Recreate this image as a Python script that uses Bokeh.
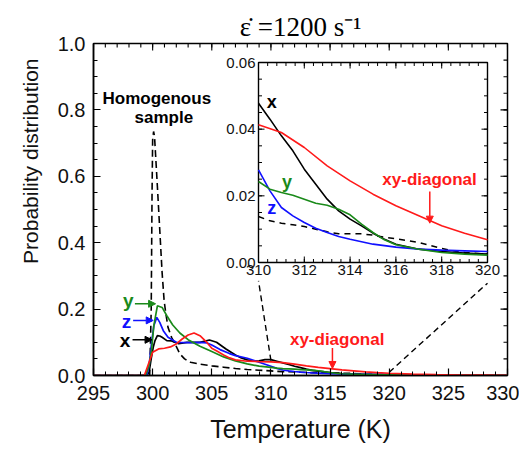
import numpy as np
from bokeh.plotting import figure
from bokeh.models import Range1d, FixedTicker, Label, Arrow, NormalHead, PrintfTickFormatter, Title
from bokeh.core.properties import value
from bokeh.embed import file_html
from bokeh.resources import INLINE

# ---------------- data ----------------
T_x = [295, 299.5, 299.7, 299.9, 300.05, 300.2, 300.4, 300.6, 300.8, 301.2, 301.6, 302.2, 302.9, 303.5, 304,
       304.8, 305.4, 306.2, 307, 307.5, 308, 308.5, 309, 309.5, 310, 310.5, 311, 311.5, 312, 312.5, 313,
       313.5, 314, 314.5, 315, 315.5, 316, 317, 318, 319, 320, 322, 325, 330]
P_x = [0, 0, 0.01, 0.055, 0.085, 0.105, 0.12, 0.119, 0.115, 0.105, 0.104, 0.096, 0.10, 0.10, 0.10,
       0.107, 0.10, 0.08, 0.062, 0.053, 0.047, 0.043, 0.044, 0.048, 0.0478, 0.043, 0.038, 0.0335, 0.028, 0.0235, 0.019,
       0.0155, 0.013, 0.011, 0.0088, 0.007, 0.0055, 0.004, 0.0033, 0.0028, 0.0025, 0.0015, 0.0008, 0.0003]

T_z = [295, 299.5, 299.7, 299.9, 300.1, 300.35, 300.6, 300.9, 301.3, 302, 303, 304, 304.6, 305, 305.7, 306.5,
       307, 308, 309, 309.5, 310, 310.5, 311, 311.5, 312, 312.5, 313, 313.5, 314, 315, 316, 317, 318, 319, 320,
       322, 325, 330]
P_z = [0, 0, 0.03, 0.095, 0.15, 0.175, 0.16, 0.135, 0.115, 0.10, 0.099, 0.10, 0.098, 0.092, 0.078, 0.066,
       0.06, 0.052, 0.04, 0.034, 0.0278, 0.0215, 0.0165, 0.014, 0.012, 0.0103, 0.009, 0.0078, 0.007, 0.0055, 0.0046,
       0.004, 0.0037, 0.0035, 0.0033, 0.002, 0.001, 0.0003]

T_y = [295, 299.4, 299.7, 299.9, 300.1, 300.4, 300.8, 301.2, 301.7, 302.3, 303, 304, 305, 306, 307, 308, 309,
       310, 310.5, 311, 311.5, 312, 312.5, 313, 313.5, 314, 314.5, 315, 315.5, 316, 317, 318, 319, 320, 322, 325, 330]
P_y = [0, 0, 0.03, 0.075, 0.15, 0.21, 0.205, 0.18, 0.152, 0.128, 0.108, 0.088, 0.072, 0.056, 0.044, 0.035, 0.028,
       0.0243, 0.022, 0.021, 0.0202, 0.019, 0.0178, 0.0172, 0.016, 0.0143, 0.0115, 0.009, 0.0068, 0.0053, 0.004,
       0.003, 0.0025, 0.0022, 0.0012, 0.0005, 0.0002]

T_xy = [295, 299.3, 299.6, 300, 300.5, 301, 301.5, 302, 302.5, 303, 303.5, 304, 304.5, 305, 305.5, 306, 306.5,
        307, 308, 309, 310, 311, 312, 313, 314, 315, 316, 317, 318, 319, 320, 322, 324, 326, 328, 330]
P_xy = [0, 0, 0.03, 0.07, 0.08, 0.082, 0.086, 0.095, 0.11, 0.122, 0.128, 0.12, 0.103, 0.082, 0.072, 0.062, 0.053,
        0.047, 0.043, 0.042, 0.0413, 0.039, 0.0345, 0.029, 0.0245, 0.0205, 0.017, 0.014, 0.011, 0.0088, 0.0068,
        0.004, 0.0025, 0.0015, 0.001, 0.0005]

T_h = [295, 299.75, 299.88, 299.95, 300.0, 300.08, 300.16, 300.4, 300.6, 300.8, 300.97, 301.1, 301.3, 301.6,
       301.9, 302.3, 302.7, 303.2, 304, 305, 306, 307, 308, 309, 310, 310.5, 311, 311.5, 312, 312.5, 313, 313.5,
       314, 314.5, 315, 315.5, 316, 316.5, 317, 317.5, 318, 318.5, 319, 320, 322, 325, 330]
P_h = [0, 0, 0.2, 0.55, 0.71, 0.735, 0.72, 0.57, 0.44, 0.31, 0.226, 0.19, 0.145, 0.115,
       0.095, 0.065, 0.05, 0.04, 0.034, 0.029, 0.025, 0.021, 0.018, 0.016, 0.0138, 0.0125, 0.0118, 0.0113, 0.0108,
       0.010, 0.0092, 0.0086, 0.0086, 0.0086, 0.0082, 0.0076, 0.0071, 0.0066, 0.006, 0.0051, 0.0042, 0.0035, 0.003,
       0.0025, 0.0012, 0.0005, 0.0002]

x_ticks = [295, 300, 305, 310, 315, 320, 325, 330]
y_ticks = [0.0, 0.2, 0.4, 0.6, 0.8, 1.0]
inset_x_ticks = [310, 312, 314, 316, 318, 320]
inset_y_ticks = [0.00, 0.02, 0.04, 0.06]
inset_x_labels = ["310", "312", "314", "316", "318", "320"]
inset_y_labels = ["0.00", "0.02", "0.04", "0.06"]

BLACK, BLUE, GREEN, RED = "#000000", "#1010ff", "#1a8a1a", "#ff1a1a"
FONT = "Liberation Sans"

# ---------------- main figure ----------------
FW, FH = 414, 332
X0, X1, Y0, Y1 = 295, 330, 0.0, 1.0
p = figure(x_range=Range1d(X0, X1), y_range=Range1d(Y0, Y1), frame_width=FW, frame_height=FH,
           min_border_left=93, min_border_top=43, min_border_right=12, min_border_bottom=10,
           output_backend="svg", toolbar_location=None,
           title="\u03b5\u0307 =1200 s\u207b\u00b9")
p.title.text_font = "Liberation Serif"
p.title.text_font_style = "normal"
p.title.text_font_size = "27px"
p.title.align = "center"
p.title.offset = 3
p.title.standoff = 3
p.title.text_color = "black"
p.grid.visible = False
p.outline_line_color = "black"
p.outline_line_width = 1.5
p.background_fill_color = "white"
p.border_fill_color = "white"

for ax in (p.xaxis[0], p.yaxis[0]):
    ax.axis_line_width = 1.5
    ax.axis_line_color = "black"
    ax.major_tick_in = 7
    ax.major_tick_out = 0
    ax.minor_tick_in = 4
    ax.minor_tick_out = 0
    ax.major_tick_line_width = 1.2
    ax.minor_tick_line_width = 1.0
    ax.major_label_text_font = FONT
    ax.major_label_text_color = "#111111"
    ax.major_label_text_font_size = "20px"
    ax.axis_label_text_font = FONT
    ax.axis_label_text_font_style = "normal"
    ax.axis_label_text_color = "#111111"

x_minor = list(np.arange(X0, X1 + 0.5, 1.0))
y_minor = list(np.arange(0, 1.0001, 0.05))
p.xaxis.ticker = FixedTicker(ticks=x_ticks, minor_ticks=x_minor)
p.yaxis.ticker = FixedTicker(ticks=y_ticks, minor_ticks=y_minor)
p.yaxis.formatter = PrintfTickFormatter(format="%.1f")
p.xaxis.major_label_standoff = 10
p.yaxis.major_label_standoff = 8
p.xaxis.axis_label = "Temperature (K)"
p.xaxis.axis_label_text_font_size = "25px"
p.xaxis.axis_label_standoff = 12

# y axis title, placed toward the top as in the reference
ytitle = Title(text="Probability distribution", align="right", offset=15, text_font=FONT,
               text_font_style="normal", text_font_size="21px", text_color="#111111", standoff=26)
p.add_layout(ytitle, "left")

# ticks on top and right frame edges (inside)
kx = (X1 - X0) / FW
ky = (Y1 - Y0) / FH
for ticks, L in [(x_ticks, 7 * ky), (x_minor, 4 * ky)]:
    p.segment(x0=ticks, y0=[Y1] * len(ticks), x1=ticks, y1=[Y1 - L] * len(ticks), line_color="black",
              line_width=1.1)
for ticks, L in [(y_ticks, 7 * kx), (y_minor, 4 * kx)]:
    p.segment(x0=[X1] * len(ticks), y0=ticks, x1=[X1 - L] * len(ticks), y1=ticks, line_color="black",
              line_width=1.1)

# main curves
LW = 1.7
p.line(T_h, P_h, line_color=BLACK, line_width=1.6, line_dash="7 4")
p.line(T_x, P_x, line_color=BLACK, line_width=LW)
p.line(T_z, P_z, line_color=BLUE, line_width=LW)
p.line(T_y, P_y, line_color=GREEN, line_width=LW)
p.line(T_xy, P_xy, line_color=RED, line_width=LW)

# ---------------- inset (drawn through extra ranges) ----------------
IX0, IX1, IY0, IY1 = 310, 320, 0.0, 0.06
in_left, in_right, in_bottom, in_top = 165, 394, 113, 313     # pixel box inside the frame
sx = (in_right - in_left) / (IX1 - IX0)
sy = (in_top - in_bottom) / (IY1 - IY0)
ix_start = IX0 - in_left / sx
iy_start = IY0 - in_bottom / sy
p.extra_x_ranges = {"ix": Range1d(ix_start, ix_start + FW / sx)}
p.extra_y_ranges = {"iy": Range1d(iy_start, iy_start + FH / sy)}
R = dict(x_range_name="ix", y_range_name="iy")

def inset_to_main(xi, yi):
    px = (xi - ix_start) * sx
    py = (yi - iy_start) * sy
    return X0 + px * kx, Y0 + py * ky

# connector lines from main plot to inset corners
for (xm, ym), (xi, yi) in [((310, 0.045), (310, -0.0055)), ((320, 0.01), (320, -0.0062))]:
    xa, ya = inset_to_main(xi, yi)
    p.line([xm, xa], [ym, ya], line_color=BLACK, line_width=1.4, line_dash="6 4")

p.quad(left=IX0, right=IX1, bottom=IY0, top=IY1, fill_color="white", line_color="black", line_width=1.4, **R)

# inset ticks
maj_y_len, min_y_len = 6 / sy, 3.5 / sy
maj_x_len, min_x_len = 6 / sx, 3.5 / sx
xminor = [v for v in np.arange(IX0, IX1 + 0.01, 0.4)]
yminor = [v for v in np.arange(IY0, IY1 + 1e-6, 0.005)]
for ticks, L in [(inset_x_ticks, maj_y_len), (xminor, min_y_len)]:
    p.segment(x0=ticks, y0=[IY0] * len(ticks), x1=ticks, y1=[IY0 + L] * len(ticks), line_color="black", line_width=1, **R)
    p.segment(x0=ticks, y0=[IY1] * len(ticks), x1=ticks, y1=[IY1 - L] * len(ticks), line_color="black", line_width=1, **R)
for ticks, L in [(inset_y_ticks, maj_x_len), (yminor, min_x_len)]:
    p.segment(x0=[IX0] * len(ticks), y0=ticks, x1=[IX0 + L] * len(ticks), y1=ticks, line_color="black", line_width=1, **R)
    p.segment(x0=[IX1] * len(ticks), y0=ticks, x1=[IX1 - L] * len(ticks), y1=ticks, line_color="black", line_width=1, **R)

p.text(x=inset_x_ticks, y=[IY0 - 2 / sy] * len(inset_x_ticks), text=inset_x_labels, text_align="center",
       text_baseline="top", text_font=value(FONT), text_font_size="15px", text_color="#111111", **R)
p.text(x=[IX0 - 3 / sx] * len(inset_y_ticks), y=inset_y_ticks, text=inset_y_labels, text_align="right",
       text_baseline="middle", text_font=value(FONT), text_font_size="15px", text_color="#111111", **R)

def clip(T, P):
    T = np.asarray(T, float); P = np.asarray(P, float)
    m = (T >= IX0) & (T <= IX1)
    return T[m], P[m]

ILW = 1.6
p.line(*clip(T_h, P_h), line_color=BLACK, line_width=1.5, line_dash="6 5", **R)
p.line(*clip(T_x, P_x), line_color=BLACK, line_width=ILW, **R)
p.line(*clip(T_z, P_z), line_color=BLUE, line_width=ILW, **R)
p.line(*clip(T_y, P_y), line_color=GREEN, line_width=ILW, **R)
p.line(*clip(T_xy, P_xy), line_color=RED, line_width=ILW, **R)

# ---------------- annotations ----------------
def lab(x, y, text, color, size="18px", align="center", **kw):
    p.add_layout(Label(x=x, y=y, text=text, text_color=color, text_font=FONT, text_font_style="bold",
                       text_font_size=size, text_align=align, text_baseline="middle", **kw))

def arrow(x0, y0, x1, y1, color, **kw):
    p.add_layout(Arrow(end=NormalHead(size=7, fill_color=color, line_color=color, line_width=1),
                       x_start=x0, y_start=y0, x_end=x1, y_end=y1, line_color=color, line_width=1.5, **kw))

lab(300.35, 0.833, "Homogenous", BLACK, size="17px")
lab(300.95, 0.778, "sample", BLACK, size="17px")

lab(297.94, 0.226, "y", GREEN, size="19px")
arrow(298.5, 0.216, 300.25, 0.216, GREEN)
lab(297.8, 0.163, "z", BLUE, size="19px")
arrow(298.35, 0.166, 300.05, 0.166, BLUE)
lab(297.66, 0.105, "x", BLACK, size="19px")
arrow(298.3, 0.1075, 299.95, 0.1075, BLACK)

lab(315.6, 0.108, "xy-diagonal", RED, size="17px")
arrow(315.2, 0.083, 315.2, 0.021, RED)

lab(310.58, 0.0483, "x", BLACK, size="18px", **R)
lab(311.24, 0.0243, "y", GREEN, size="18px", **R)
lab(310.58, 0.0163, "z", BLUE, size="18px", **R)
lab(317.47, 0.0248, "xy-diagonal", RED, size="17px", **R)
arrow(317.48, 0.0213, 317.48, 0.0118, RED, **R)

open("out.html", "w").write(file_html(p, INLINE))
